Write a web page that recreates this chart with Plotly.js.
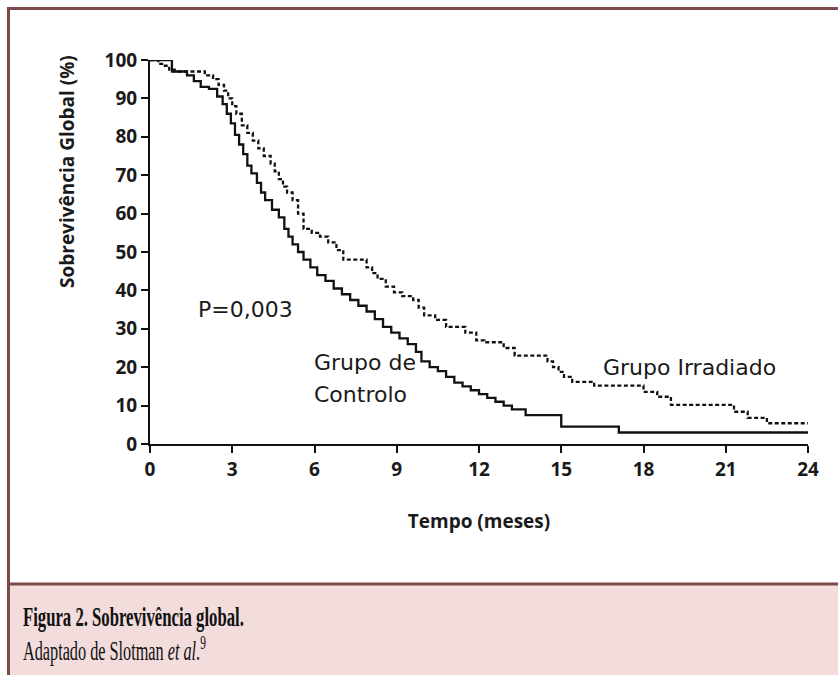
<!DOCTYPE html>
<html>
<head>
<meta charset="utf-8">
<script src="https://cdn.plot.ly/plotly-3.0.1.min.js"></script>
<style>
html,body{margin:0;padding:0;background:#ffffff;}
#chart{width:838px;height:675px;}
</style>
</head>
<body>
<div id="chart"></div>
<script>
// ---- data ----
const seriesNames = ['Grupo de Controlo', 'Grupo Irradiado'];
const xTicks = [0, 3, 6, 9, 12, 15, 18, 21, 24];
const yTicks = [0, 10, 20, 30, 40, 50, 60, 70, 80, 90, 100];

const controlMonths = [0, 0.8, 1.35, 1.6, 1.85, 2.15, 2.45, 2.65, 2.8, 2.95, 3.1, 3.25, 3.4, 3.55, 3.7, 3.9, 4.05, 4.2, 4.45, 4.7, 4.9, 5.05, 5.2, 5.4, 5.6, 5.85, 6.1, 6.4, 6.7, 7.0, 7.3, 7.6, 7.9, 8.2, 8.5, 8.8, 9.1, 9.4, 9.7, 9.9, 10.2, 10.5, 10.8, 11.1, 11.4, 11.7, 12.0, 12.3, 12.6, 12.9, 13.2, 13.7, 15.0, 17.1, 24];
const controlSurvival = [100, 97, 96, 94.5, 93, 92.5, 90.5, 88.5, 86, 83.5, 80.5, 78, 75.5, 72.5, 70.5, 68, 65.5, 63.5, 61, 59, 56, 54, 52, 50, 48, 46, 44, 42.5, 40.5, 39, 37.5, 36, 34.5, 32.5, 30.5, 29, 27.5, 26, 24, 21.5, 20, 19, 17.5, 16, 15, 14, 13, 12, 11, 10, 9, 7.5, 4.5, 3, 3];

const irradiatedMonths = [0, 0.3, 0.5, 0.7, 0.9, 2.0, 2.3, 2.5, 2.7, 2.85, 3.0, 3.15, 3.35, 3.55, 3.75, 3.95, 4.15, 4.4, 4.55, 4.7, 4.85, 5.0, 5.2, 5.4, 5.6, 5.9, 6.2, 6.5, 6.8, 7.05, 7.9, 8.1, 8.3, 8.6, 8.9, 9.2, 9.6, 9.8, 10.0, 10.4, 10.8, 11.5, 11.9, 12.2, 12.9, 13.3, 14.5, 14.7, 14.9, 15.1, 15.4, 16.2, 18.0, 18.5, 19.0, 21.3, 21.8, 22.5, 24];
const irradiatedSurvival = [100, 99, 98.5, 97.5, 97, 96, 95, 93.5, 92, 90, 88, 86, 83, 81, 79, 77, 75, 73, 71, 69, 67, 65.5, 63.5, 60, 56, 55, 54, 52.5, 50.5, 48, 46, 44.5, 43, 41, 39.5, 38.5, 37.5, 35.5, 33.5, 32.3, 30.5, 29, 27, 26.5, 25, 23, 21.5, 20, 18.8, 17.5, 16.2, 15.2, 13.6, 12.3, 10.2, 8.4, 6.8, 5.4, 5.4];

// ---- layout geometry ----
const W = 838, H = 675;
const M = {l: 150, r: 30, t: 60, b: 231};
const PW = W - M.l - M.r, PH = H - M.t - M.b;
const px = x => (x - M.l) / PW;          // pixel x -> paper x
const py = y => (H - M.b - y) / PH;      // pixel y -> paper y

const ink = '#111111';
const textInk = '#1a1a1a';
const frame = '#7d4b47';
const pink = '#f2dcdc';

const traces = [
  {
    x: controlMonths, y: controlSurvival, name: seriesNames[0],
    type: 'scatter', mode: 'lines', line: {shape: 'hv', color: ink, width: 2.3},
    cliponaxis: false, showlegend: false, hoverinfo: 'x+y'
  },
  {
    x: irradiatedMonths, y: irradiatedSurvival, name: seriesNames[1],
    type: 'scatter', mode: 'lines', line: {shape: 'hv', color: ink, width: 2.3, dash: '4px,2.5px'},
    cliponaxis: false, showlegend: false, hoverinfo: 'x+y'
  }
];

const tickFont = {family: 'Open Sans, sans-serif', size: 19, weight: 'bold', color: textInk};
const annFont = {family: 'DejaVu Sans, sans-serif', size: 22, color: textInk};
const capFont = {family: 'Liberation Serif, Times New Roman, serif', size: 27, color: '#111111'};

const layout = {
  width: W, height: H,
  margin: M,
  paper_bgcolor: '#ffffff',
  plot_bgcolor: 'rgba(0,0,0,0)',
  showlegend: false,
  xaxis: {
    range: [0, 24], tickvals: xTicks, ticktext: xTicks.map(String),
    showline: true, linecolor: ink, linewidth: 2,
    ticks: 'outside', ticklen: 7, tickwidth: 2, tickcolor: ink,
    showgrid: false, zeroline: false, tickfont: tickFont,
    title: {text: 'Tempo (meses)', font: {family: 'Open Sans, sans-serif', size: 19, weight: 'bold', color: textInk}, standoff: 34},
    fixedrange: true
  },
  yaxis: {
    range: [0, 100], tickvals: yTicks, ticktext: yTicks.map(String),
    showline: true, linecolor: ink, linewidth: 2,
    ticks: 'outside', ticklen: 7, tickwidth: 2, tickcolor: ink,
    showgrid: false, zeroline: false, tickfont: tickFont,
    fixedrange: true
  },
  shapes: [
    {type: 'rect', xref: 'paper', yref: 'paper', x0: px(9), x1: px(840), y0: py(677), y1: py(585), fillcolor: pink, line: {width: 0}, layer: 'below'},
    {type: 'line', xref: 'paper', yref: 'paper', x0: px(8.5), x1: px(8.5), y0: py(7), y1: py(677), line: {color: frame, width: 3}},
    {type: 'line', xref: 'paper', yref: 'paper', x0: px(7), x1: px(840), y0: py(8.5), y1: py(8.5), line: {color: frame, width: 3}},
    {type: 'line', xref: 'paper', yref: 'paper', x0: px(7), x1: px(840), y0: py(584), y1: py(584), line: {color: frame, width: 3}}
  ],
  annotations: [
    {xref: 'paper', yref: 'paper', x: px(67), y: py(172), text: 'Sobrevivência Global (%)', textangle: -90,
     showarrow: false, xanchor: 'center', yanchor: 'middle',
     font: {family: 'Open Sans, sans-serif', size: 19, weight: 'bold', color: textInk}},
    {xref: 'x', yref: 'y', x: 3.5, y: 34.9, text: 'P=0,003', showarrow: false, xanchor: 'center', yanchor: 'middle', font: annFont},
    {xref: 'x', yref: 'y', x: 5.92, y: 21.1, text: 'Grupo de', showarrow: false, xanchor: 'left', yanchor: 'middle', font: annFont},
    {xref: 'x', yref: 'y', x: 5.92, y: 12.8, text: 'Controlo', showarrow: false, xanchor: 'left', yanchor: 'middle', font: annFont},
    {xref: 'x', yref: 'y', x: 16.45, y: 20.0, text: 'Grupo Irradiado', showarrow: false, xanchor: 'left', yanchor: 'middle', font: annFont},
    {xref: 'paper', yref: 'paper', x: px(21), y: py(617), text: '<b>Figura 2. Sobrevivência global.</b>', showarrow: false, xanchor: 'left', yanchor: 'middle', align: 'left', font: capFont},
    {xref: 'paper', yref: 'paper', x: px(21), y: py(649), text: 'Adaptado de Slotman <i>et al</i>.<sup>9</sup>', showarrow: false, xanchor: 'left', yanchor: 'middle', align: 'left', font: capFont}
  ]
};

Plotly.newPlot('chart', traces, layout, {staticPlot: true, displayModeBar: false}).then(function () {
  // The caption face in the reference is a condensed serif: narrow each caption line to its measured width,
  // keeping its left edge in place.
  const widths = {Figura: 221, Adaptado: 183};
  document.querySelectorAll('#chart .annotation-text').forEach(function (t) {
    const txt = t.textContent || '';
    const key = txt.indexOf('Figura') === 0 ? 'Figura' : (txt.indexOf('Adaptado') === 0 ? 'Adaptado' : null);
    if (key) {
      const bb = t.getBBox();
      const s = widths[key] / bb.width;
      t.setAttribute('transform', 'translate(' + (bb.x * (1 - s)) + ',0) scale(' + s + ',1)');
    }
  });
});
</script>
</body>
</html>
